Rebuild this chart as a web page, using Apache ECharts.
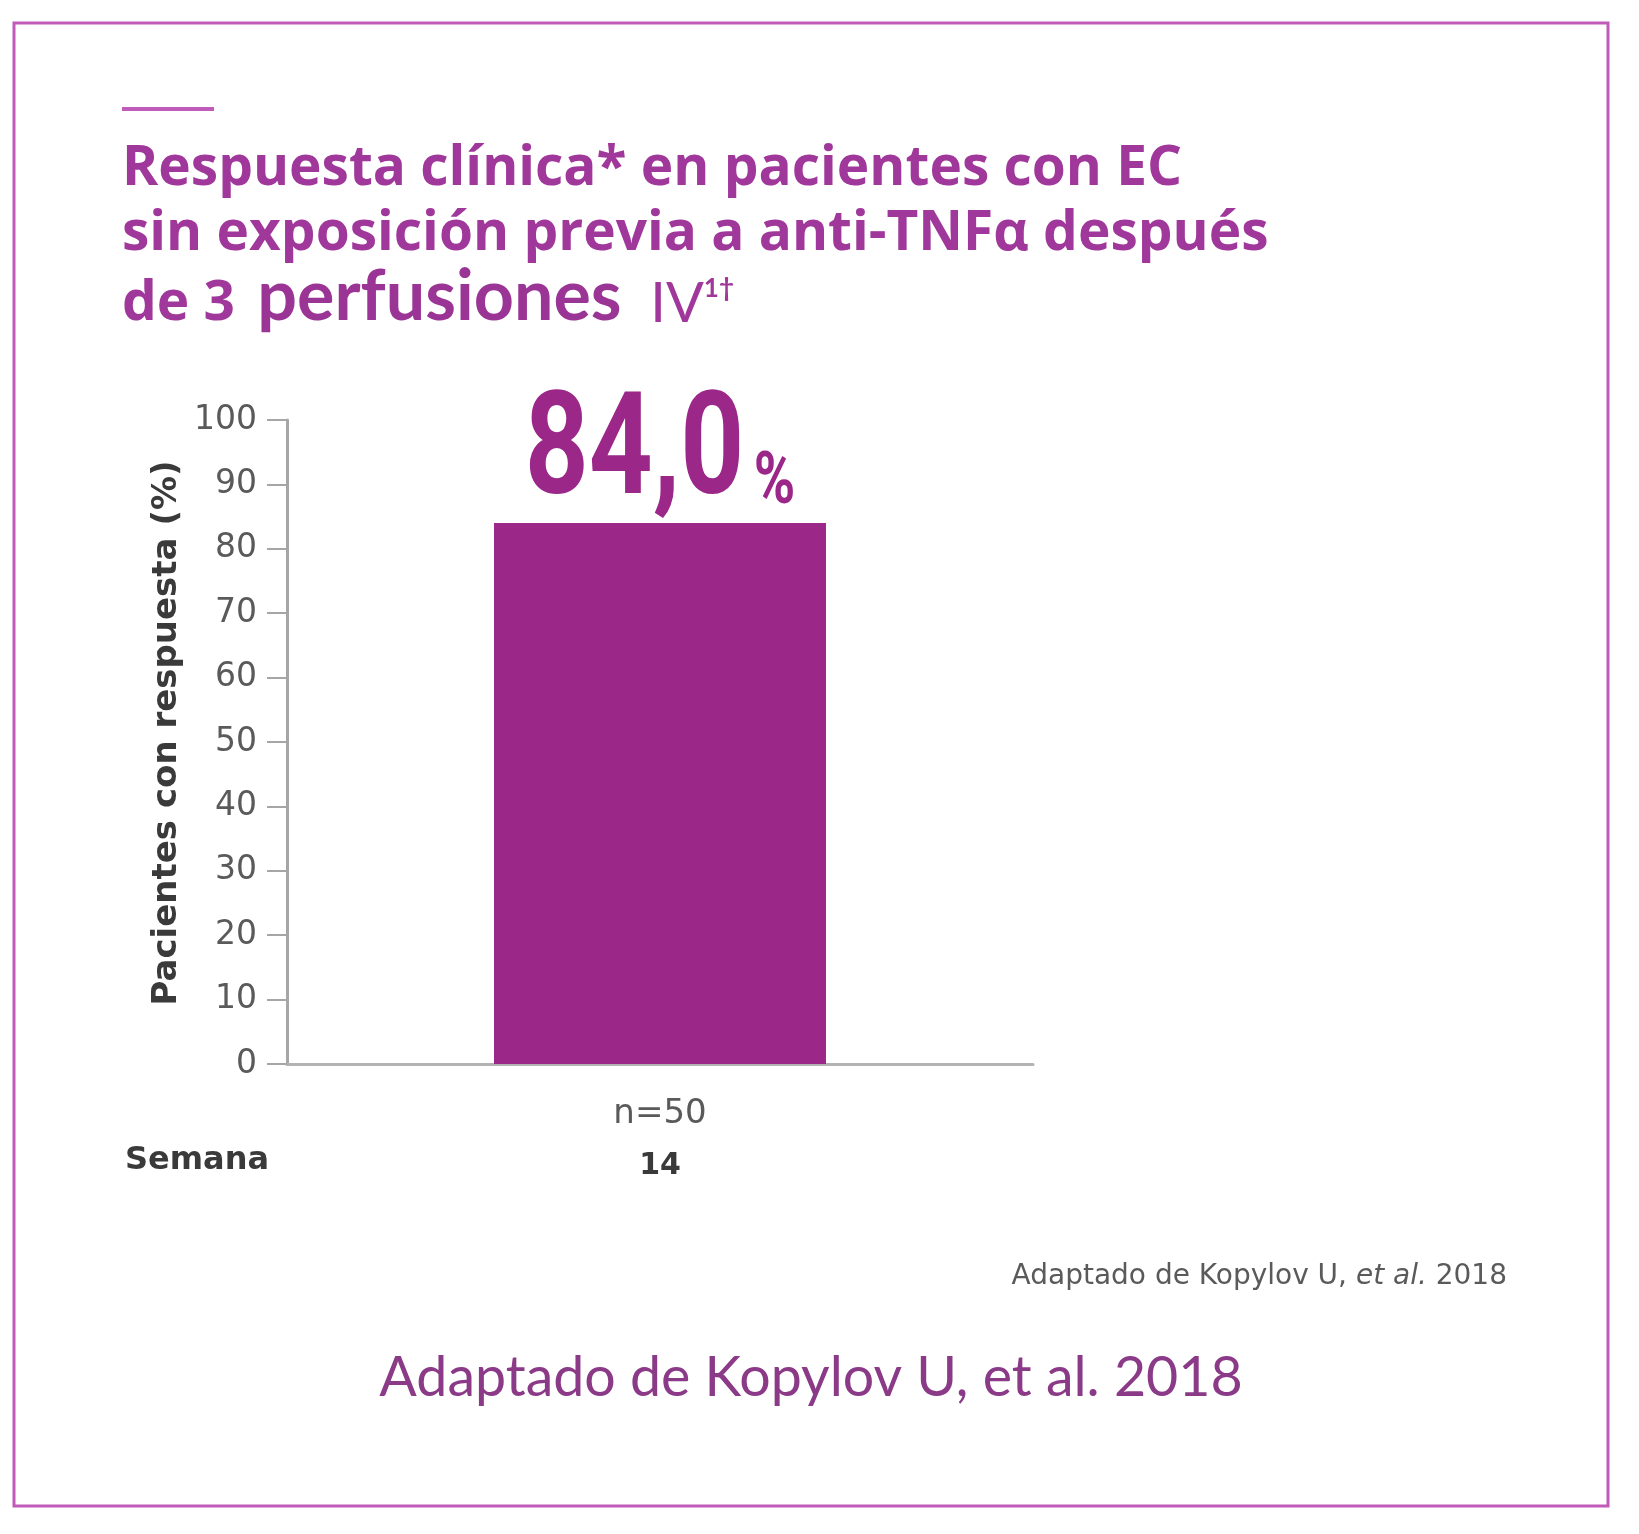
<!DOCTYPE html>
<html>
<head>
<meta charset="utf-8">
<title>Respuesta clínica</title>
<script src="https://cdn.jsdelivr.net/npm/echarts@6/dist/echarts.min.js"></script>
<style>
  html, body { margin: 0; padding: 0; background: #fff; }
  #main { width: 1639px; height: 1534px; }
</style>
</head>
<body>
<div id="main"></div>
<script>
// datos
var categorias = ['14'];
var muestras = ['n=50'];
var respuesta = [84.0];
var yMin = 0, yMax = 100, yPaso = 10;

var morado = '#9b2789';
var tituloColor = '#a0379a';
var gris = '#5a5a5a';

var chart = echarts.init(document.getElementById('main'));

// etiqueta grande del valor, estrechada (no hay fuente condensada instalada)
function etiquetaValor(params, api) {
  var p = api.coord([api.value(0), api.value(1)]);
  var v = api.value(1);
  return {
    type: 'text',
    x: p[0],
    y: p[1] + 6,
    scaleX: 0.78,
    style: {
      text: '{a|' + v.toFixed(1).replace('.', ',') + '}{b|%}',
      align: 'center',
      verticalAlign: 'bottom',
      rich: {
        a: { fontFamily: 'Roboto', fontWeight: 'bold', fontSize: 143, fill: morado, verticalAlign: 'bottom' },
        b: { fontFamily: 'Roboto', fontWeight: 'bold', fontSize: 72, fill: morado, verticalAlign: 'bottom', padding: [0, 0, 8, 12] }
      }
    }
  };
}

var option = {
  backgroundColor: '#ffffff',
  animation: false,
  grid: { left: 287, right: 606, top: 420, bottom: 470, containLabel: false },
  xAxis: {
    type: 'category',
    data: categorias,
    axisLine: { show: true, lineStyle: { color: '#b3b3b3', width: 3 } },
    axisTick: { show: false },
    axisLabel: {
      margin: 24,
      formatter: function (v, i) {
        return '{n|' + muestras[i] + '}\n{w|' + v + '}';
      },
      rich: {
        n: { fontFamily: 'DejaVu Sans', fontSize: 34, color: gris, lineHeight: 52 },
        w: { fontFamily: 'DejaVu Sans', fontWeight: 'bold', fontSize: 30, color: '#3a3a3a', lineHeight: 52 }
      }
    }
  },
  yAxis: {
    type: 'value',
    min: yMin, max: yMax, interval: yPaso,
    name: 'Pacientes con respuesta (%)',
    nameLocation: 'middle',
    nameGap: 103,
    nameRotate: 90,
    nameTextStyle: { fontFamily: 'DejaVu Sans', fontWeight: 'bold', fontSize: 34, color: '#3a3a3a', padding: [0, 0, 0, 18] },
    axisLine: { show: true, lineStyle: { color: '#a6a6a6', width: 3 } },
    axisTick: { show: true, length: 20, lineStyle: { color: '#a6a6a6', width: 2 } },
    splitLine: { show: false },
    axisLabel: { fontFamily: 'DejaVu Sans', fontSize: 33, color: gris, margin: 30 }
  },
  series: [{
    type: 'bar',
    data: respuesta,
    barWidth: '44.5%',
    itemStyle: { color: morado }
  }, {
    type: 'custom',
    data: respuesta.map(function (v, i) { return [i, v]; }),
    renderItem: etiquetaValor,
    silent: true,
    z: 5
  }],
  graphic: [
    { type: 'rect', shape: { x: 14, y: 23, width: 1594, height: 1483 },
      style: { fill: 'none', stroke: '#c05bb9', lineWidth: 3 } },
    { type: 'rect', shape: { x: 122, y: 107, width: 92, height: 4 },
      style: { fill: '#c05bb9' } },
    { type: 'text', left: 122, top: 142,
      style: { text: 'Respuesta clínica* en pacientes con EC', font: 'bold 55px "Open Sans"', fill: tituloColor } },
    { type: 'text', left: 122, top: 207,
      style: { text: 'sin exposición previa a anti-TNFα después', font: 'bold 55px "Open Sans"', fill: tituloColor } },
    { type: 'text', left: 122, top: 262,
      style: {
        text: '{d|de 3 }{p|perfusiones}{i|  IV}{s|1†}',
        rich: {
          d: { font: 'bold 55px "Open Sans"', fill: tituloColor, verticalAlign: 'bottom' },
          p: { font: 'bold 70px Lato', fill: '#9a3596', verticalAlign: 'bottom', padding: [0, 0, 0, 8] },
          i: { font: '56px Lato', fill: tituloColor, verticalAlign: 'bottom' },
          s: { font: 'bold 26px Lato', fill: tituloColor, verticalAlign: 'bottom', padding: [0, 0, 30, 0] }
        }
      } },
    { type: 'text', left: 125, top: 1145,
      style: { text: 'Semana', font: 'bold 32px "DejaVu Sans"', fill: '#3a3a3a' } },
    { type: 'text', right: 132, top: 1263,
      style: {
        text: 'Adaptado de Kopylov U, {it|et al.} 2018',
        font: '28px "DejaVu Sans"', fill: gris,
        rich: { it: { font: 'italic 28px "DejaVu Sans"', fill: gris } }
      } },
    { type: 'text', x: 811, y: 1378,
      style: { text: 'Adaptado de Kopylov U, et al. 2018', font: '55.5px Lato', fill: '#8b3a87',
        align: 'center', verticalAlign: 'middle' } }
  ]
};

chart.setOption(option);
</script>
</body>
</html>
